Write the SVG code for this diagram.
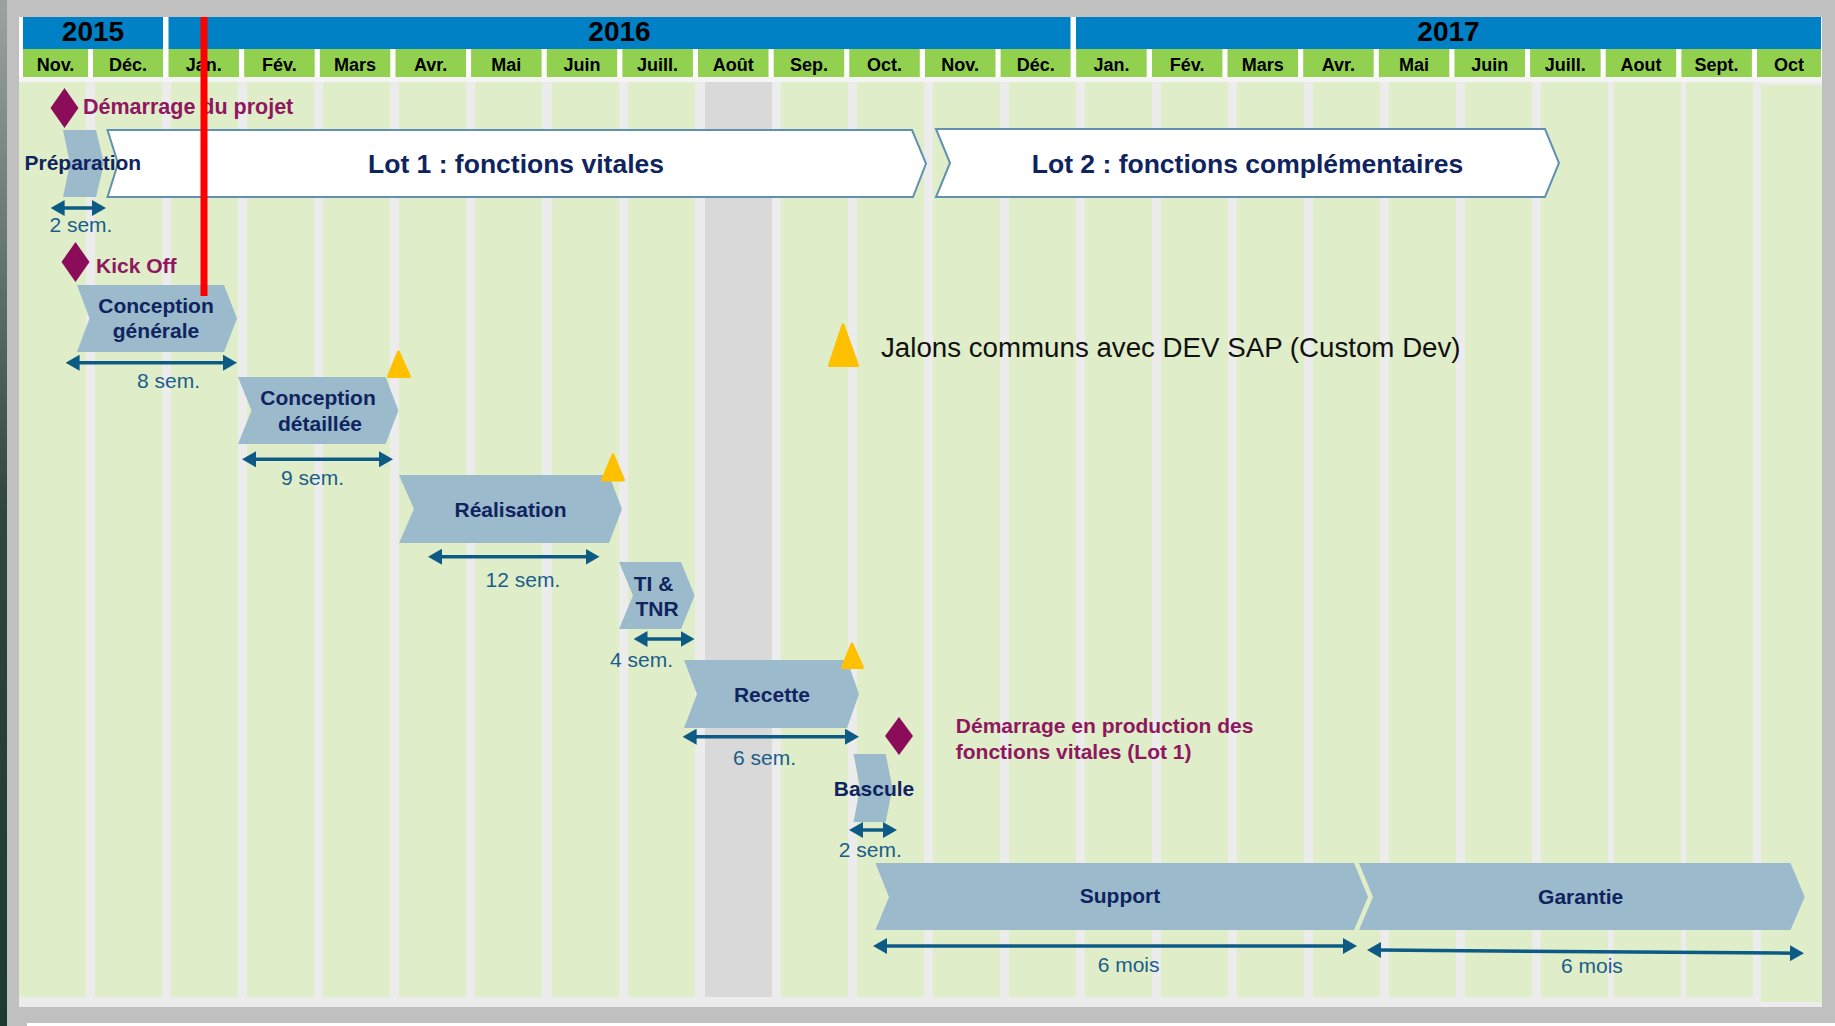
<svg xmlns="http://www.w3.org/2000/svg" width="1835" height="1026" viewBox="0 0 1835 1026">
<defs>
<linearGradient id="edge" x1="0" y1="0" x2="0" y2="1"><stop offset="0" stop-color="#9aa3a0"/><stop offset="0.5" stop-color="#2f463d"/><stop offset="1" stop-color="#1d3a30"/></linearGradient>
<marker id="ah" viewBox="0 0 14 16" refX="3" refY="8" markerWidth="14" markerHeight="16" markerUnits="userSpaceOnUse" orient="auto-start-reverse"><path d="M0,0 L14,8 L0,16 z" fill="#0d5b84"/></marker>
<style>
.t{font-family:"Liberation Sans",Arial,sans-serif}
.yr{font-weight:bold;font-size:28px;fill:#000;text-anchor:middle}
.mon{font-weight:bold;font-size:18px;fill:#000;text-anchor:middle}
.cv{fill:#9bbacb}
.lot{fill:#fff;stroke:#6190b0;stroke-width:2}
.lbl{font-weight:bold;font-size:21px;fill:#0f245f;text-anchor:middle}
.big{font-weight:bold;font-size:26.5px;fill:#0f245f;text-anchor:middle}
.dur{font-size:21px;fill:#1b5e8a}
.ms{fill:#8b0d5a}
.mst{font-weight:bold;font-size:21px;fill:#8e1760}
.jal{fill:#ffc000;stroke:#ffc000;stroke-width:3;stroke-linejoin:round}
.arr{stroke:#0d5b84;stroke-width:3.5;fill:none;marker-start:url(#ah);marker-end:url(#ah)}
.col{fill:#dfedc9}
.mc{fill:#92d050}
.yb{fill:#0081c6}
</style>
</defs>
<!-- frame -->
<rect x="0" y="0" width="1835" height="1026" fill="#c0c0c0"/>
<rect x="0" y="0" width="7" height="1026" fill="url(#edge)"/>
<rect x="27" y="1023" width="1808" height="3" fill="#ffffff"/>
<rect x="19" y="17" width="1803" height="65" fill="#ffffff"/>
<rect x="19" y="77" width="1803" height="930" fill="#ececec"/>
<rect x="19" y="77" width="1803" height="5" fill="#f4f4f4"/>
<!-- columns -->
<g id="columns">
<rect class="col" x="19" y="82" width="67" height="915"/>
<rect class="col" x="95" y="82" width="67" height="915"/>
<rect class="col" x="171" y="82" width="67" height="915"/>
<rect class="col" x="247" y="82" width="67" height="915"/>
<rect class="col" x="323" y="82" width="67" height="915"/>
<rect class="col" x="399" y="82" width="67" height="915"/>
<rect class="col" x="475" y="82" width="67" height="915"/>
<rect class="col" x="552" y="82" width="67" height="915"/>
<rect class="col" x="628" y="82" width="67" height="915"/>
<rect x="705" y="82" width="67" height="915" fill="#d9d9d9"/>
<rect class="col" x="781" y="82" width="67" height="915"/>
<rect class="col" x="857" y="82" width="67" height="915"/>
<rect class="col" x="933" y="82" width="67" height="915"/>
<rect class="col" x="1009" y="82" width="67" height="915"/>
<rect class="col" x="1085" y="82" width="67" height="915"/>
<rect class="col" x="1161" y="82" width="67" height="915"/>
<rect class="col" x="1237" y="82" width="67" height="915"/>
<rect class="col" x="1313" y="82" width="67" height="915"/>
<rect class="col" x="1389" y="82" width="67" height="915"/>
<rect class="col" x="1465" y="82" width="67" height="915"/>
<rect class="col" x="1541" y="82" width="67" height="915"/>
<rect class="col" x="1614" y="82" width="67" height="915"/>
<rect class="col" x="1686" y="82" width="67" height="915"/>
<rect class="col" x="1761" y="85" width="61" height="917"/>
</g>
<!-- header -->
<g id="years" class="t">
<rect class="yb" x="23" y="17" width="140" height="32"/>
<rect class="yb" x="168.5" y="17" width="902" height="32"/>
<rect class="yb" x="1076" y="17" width="745" height="32"/>
<text class="yr" x="93" y="40.5">2015</text>
<text class="yr" x="619.5" y="40.5">2016</text>
<text class="yr" x="1448.5" y="40.5">2017</text>
</g>
<g id="months" class="t">
<rect class="mc" x="23" y="49" width="65" height="28"/>
<rect class="mc" x="93" y="49" width="70" height="28"/>
<rect class="mc" x="168.5" y="49" width="70.5" height="28"/>
<rect class="mc" x="244.2" y="49" width="70.5" height="28"/>
<rect class="mc" x="319.8" y="49" width="70.5" height="28"/>
<rect class="mc" x="395.5" y="49" width="70.5" height="28"/>
<rect class="mc" x="471.1" y="49" width="70.5" height="28"/>
<rect class="mc" x="546.7" y="49" width="70.5" height="28"/>
<rect class="mc" x="622.4" y="49" width="70.5" height="28"/>
<rect class="mc" x="698" y="49" width="70.5" height="28"/>
<rect class="mc" x="773.7" y="49" width="70.5" height="28"/>
<rect class="mc" x="849.3" y="49" width="70.5" height="28"/>
<rect class="mc" x="925" y="49" width="70.5" height="28"/>
<rect class="mc" x="1000.6" y="49" width="70" height="28"/>
<rect class="mc" x="1076.2" y="49" width="70.5" height="28"/>
<rect class="mc" x="1151.9" y="49" width="70.5" height="28"/>
<rect class="mc" x="1227.5" y="49" width="70.5" height="28"/>
<rect class="mc" x="1303.2" y="49" width="70.5" height="28"/>
<rect class="mc" x="1378.8" y="49" width="70.5" height="28"/>
<rect class="mc" x="1454.5" y="49" width="70.5" height="28"/>
<rect class="mc" x="1530.1" y="49" width="70.5" height="28"/>
<rect class="mc" x="1605.7" y="49" width="70.5" height="28"/>
<rect class="mc" x="1681.4" y="49" width="70.5" height="28"/>
<rect class="mc" x="1757" y="49" width="64" height="28"/>
<text class="mon" x="55.5" y="70.5">Nov.</text>
<text class="mon" x="128" y="70.5">Déc.</text>
<text class="mon" x="203.7" y="70.5">Jan.</text>
<text class="mon" x="279.4" y="70.5">Fév.</text>
<text class="mon" x="355" y="70.5">Mars</text>
<text class="mon" x="430.7" y="70.5">Avr.</text>
<text class="mon" x="506.3" y="70.5">Mai</text>
<text class="mon" x="582" y="70.5">Juin</text>
<text class="mon" x="657.6" y="70.5">Juill.</text>
<text class="mon" x="733.2" y="70.5">Août</text>
<text class="mon" x="808.9" y="70.5">Sep.</text>
<text class="mon" x="884.5" y="70.5">Oct.</text>
<text class="mon" x="960.2" y="70.5">Nov.</text>
<text class="mon" x="1035.8" y="70.5">Déc.</text>
<text class="mon" x="1111.4" y="70.5">Jan.</text>
<text class="mon" x="1187.1" y="70.5">Fév.</text>
<text class="mon" x="1262.7" y="70.5">Mars</text>
<text class="mon" x="1338.4" y="70.5">Avr.</text>
<text class="mon" x="1414" y="70.5">Mai</text>
<text class="mon" x="1489.7" y="70.5">Juin</text>
<text class="mon" x="1565.3" y="70.5">Juill.</text>
<text class="mon" x="1641" y="70.5">Aout</text>
<text class="mon" x="1716.6" y="70.5">Sept.</text>
<text class="mon" x="1789" y="70.5">Oct</text>
</g>
<!-- nodes -->
<g id="n-preparation" class="t">
<polygon class="cv" points="63,130 96,130 104,163.5 96,197 63,197 70,163.5"/>
</g>
<g id="n-lot1" class="t">
<polygon class="lot" points="107.5,130 912,130 926,163.5 913,197 107.5,197 118,163.5"/>
<text class="big" x="516" y="173">Lot 1 : fonctions vitales</text>
</g>
<g id="n-lot2" class="t">
<polygon class="lot" points="936,129 1545,129 1559,163 1545,197 936,197 950,163"/>
<text class="big" x="1247.5" y="173">Lot 2 : fonctions complémentaires</text>
</g>
<g id="n-prep-label" class="t">
<text class="lbl" x="24.5" y="170" style="text-anchor:start">Préparation</text>
</g>
<g id="n-demarrage-projet" class="t">
<polygon class="ms" points="64.5,88 78.5,108 64.5,128 50.5,108"/>
<text class="mst" x="83" y="114" style="font-size:21.5px">Démarrage du projet</text>
</g>
<g id="n-kickoff" class="t">
<polygon class="ms" points="75.5,242 89.5,262 75.5,282 61.5,262"/>
<text class="mst" x="96" y="272.5">Kick Off</text>
</g>
<g id="n-conception-generale" class="t">
<polygon class="cv" points="77,285 224,285 237,318.5 224,352 77,352 89.5,318.5"/>
<text class="lbl" x="156" y="313.3">Conception</text>
<text class="lbl" x="156" y="338">générale</text>
</g>
<g id="n-conception-detaillee" class="t">
<polygon class="cv" points="238,377 385.6,377 398.4,410.5 385.6,444 238,444 251.5,410.5"/>
<text class="lbl" x="318" y="405">Conception</text>
<text class="lbl" x="320" y="430.7">détaillée</text>
</g>
<g id="n-realisation" class="t">
<polygon class="cv" points="399,475 609,475 622,509 609,543 399,543 414,509"/>
<text class="lbl" x="510.5" y="516.7">Réalisation</text>
</g>
<g id="n-ti-tnr" class="t">
<polygon class="cv" points="619,562 681,562 694.6,595.5 681,629 619,629 633,595.5"/>
<text class="lbl" x="653.6" y="590.7">TI &amp;</text>
<text class="lbl" x="657" y="616">TNR</text>
</g>
<g id="n-recette" class="t">
<polygon class="cv" points="684,660 847,660 859,694 847,728 684,728 697,694"/>
<text class="lbl" x="771.9" y="701.7">Recette</text>
</g>
<g id="n-demarrage-prod" class="t">
<polygon class="ms" points="899,717 913,736 899,755 885,736"/>
<text class="mst" x="955.8" y="733.3">Démarrage en production des</text>
<text class="mst" x="955.8" y="759.3">fonctions vitales (Lot 1)</text>
</g>
<g id="n-bascule" class="t">
<polygon class="cv" points="853.6,754 885.7,754 892.4,788 885.7,822 853.6,822 860,788"/>
<text class="lbl" x="874" y="795.7">Bascule</text>
</g>
<g id="n-support" class="t">
<polygon class="cv" points="875.4,863 1354,863 1368,897 1354,930 875.4,930 889,897"/>
<text class="lbl" x="1120" y="903.3">Support</text>
</g>
<g id="n-garantie" class="t">
<polygon class="cv" points="1359,863 1790.5,863 1804.7,897 1790.5,930 1359,930 1373,897"/>
<text class="lbl" x="1580.7" y="904">Garantie</text>
</g>
<g id="jalons">
<polygon class="jal" points="398.4,352 409.5,376.5 388.5,376.5"/>
<polygon class="jal" points="613,455 623.5,480 602.5,480"/>
<polygon class="jal" points="852,644 862.5,667.5 842.5,667.5"/>
</g>
<g id="legend" class="t">
<polygon class="jal" points="843,325 857.5,365.5 829.5,365.5"/>
<text x="881" y="357" style="font-size:27.7px;fill:#111">Jalons communs avec DEV SAP (Custom Dev)</text>
</g>
<!-- duration arrows -->
<g id="connectors">
<line class="arr" x1="61.6" y1="208" x2="95" y2="208"/>
<line class="arr" x1="76.6" y1="362.7" x2="226" y2="362.7"/>
<line class="arr" x1="253" y1="459.3" x2="382" y2="459.3"/>
<line class="arr" x1="439" y1="556.7" x2="588.5" y2="556.7"/>
<line class="arr" x1="644.5" y1="639" x2="683.6" y2="639"/>
<line class="arr" x1="693.6" y1="736.7" x2="848" y2="736.7"/>
<line class="arr" x1="860" y1="830" x2="886" y2="830"/>
<line class="arr" x1="884" y1="946" x2="1346" y2="946"/>
<line class="arr" x1="1378" y1="950" x2="1793" y2="953.2"/>
</g>
<g id="durations" class="t">
<text class="dur" x="49.4" y="231.7">2 sem.</text>
<text class="dur" x="137" y="388">8 sem.</text>
<text class="dur" x="281" y="485">9 sem.</text>
<text class="dur" x="485.6" y="587">12 sem.</text>
<text class="dur" x="610" y="666.7">4 sem.</text>
<text class="dur" x="733" y="765">6 sem.</text>
<text class="dur" x="838.8" y="856.7">2 sem.</text>
<text class="dur" x="1097.7" y="971.7">6 mois</text>
<text class="dur" x="1561" y="973.3">6 mois</text>
</g>
<rect id="today" x="200.5" y="17" width="7" height="279" fill="#ff0000"/>
</svg>
